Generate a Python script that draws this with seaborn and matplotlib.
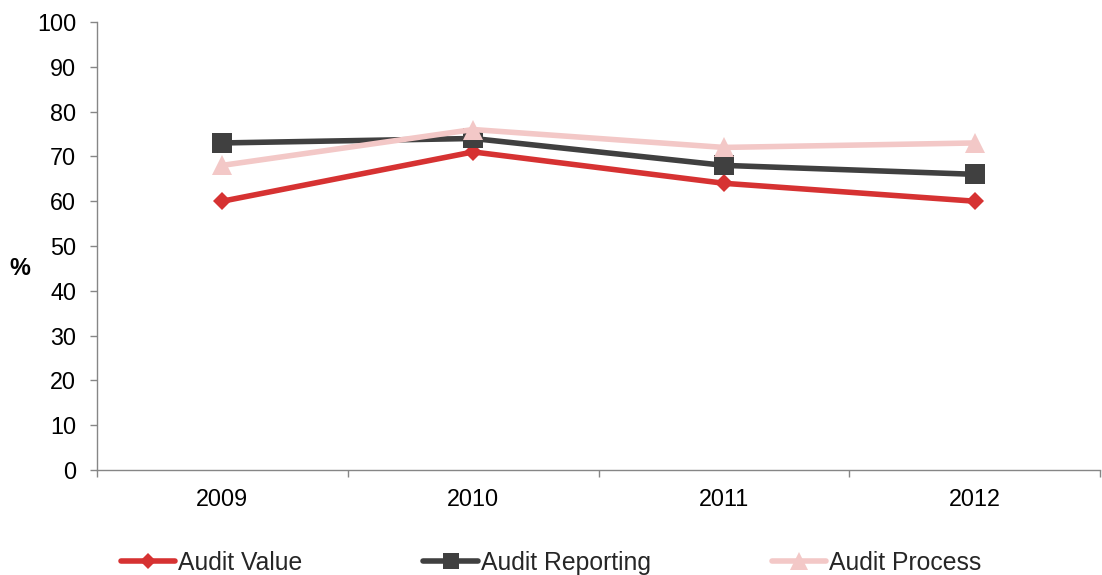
import matplotlib
matplotlib.use("Agg")
import matplotlib.pyplot as plt
from matplotlib.lines import Line2D
from matplotlib.ticker import FixedLocator, NullFormatter
import pandas as pd
import seaborn as sns

years = ["2009", "2010", "2011", "2012"]
audit_value = [60, 71, 64, 60]
audit_reporting = [73, 74, 68, 66]
audit_process = [68, 76, 72, 73]
series_names = ["Audit Value", "Audit Reporting", "Audit Process"]
y_ticks = list(range(0, 101, 10))

colors = ["#D63232", "#404040", "#F3C8C7"]
markers = ["D", "s", "^"]
marker_sizes = [9.5, 14, 14.5]

sns.set_theme(style="white")
plt.rcParams["font.family"] = ["Liberation Sans", "DejaVu Sans"]

rows = []
for name, vals in zip(series_names, [audit_value, audit_reporting, audit_process]):
    for i, (yr, v) in enumerate(zip(years, vals)):
        rows.append({"pos": i, "year": yr, "value": v, "series": name})
df = pd.DataFrame(rows)

fig = plt.figure(figsize=(11.02, 5.75), dpi=100)
ax = fig.add_axes([97 / 1102, 1 - 470 / 575, (1100 - 97) / 1102, (470 - 22) / 575])

palette = dict(zip(series_names, colors))
for name, mk, ms in zip(series_names, markers, marker_sizes):
    sub = df[df["series"] == name]
    sns.lineplot(data=sub, x="pos", y="value", color=palette[name], ax=ax,
                 linewidth=4, marker=mk, markersize=ms, markeredgewidth=0,
                 legend=False, sort=False)

ax.set_xlim(-0.5, len(years) - 0.5)
ax.set_ylim(0, 100)
ax.set_yticks(y_ticks)
ax.set_xticks(range(len(years)))
ax.set_xticklabels(years)
ax.xaxis.set_minor_locator(FixedLocator([i - 0.5 for i in range(len(years) + 1)]))
ax.xaxis.set_minor_formatter(NullFormatter())

spine_color = "#868686"
for side in ["top", "right"]:
    ax.spines[side].set_visible(False)
for side in ["left", "bottom"]:
    ax.spines[side].set_color(spine_color)
    ax.spines[side].set_linewidth(1.0)

ax.tick_params(axis="y", which="major", direction="out", length=5, width=1,
               color=spine_color, labelsize=16.8, labelcolor="black", pad=10, left=True)
ax.tick_params(axis="x", which="major", length=0, labelsize=16.8,
               labelcolor="black", pad=13, bottom=True)
ax.tick_params(axis="x", which="minor", direction="out", length=5, width=1,
               color=spine_color, bottom=True)

ax.set_xlabel("")
ax.set_ylabel("%", rotation=0, fontsize=16.8, fontweight="bold", color="black",
              va="center", ha="center")
ax.yaxis.set_label_coords(-0.077, 0.45)

handles = [Line2D([0], [0], color=c, linewidth=4, marker=m, markersize=ms * 0.85,
                  markeredgewidth=0, solid_capstyle="round")
           for c, m, ms in zip(colors, markers, marker_sizes)]
fig.legend(handles, series_names, loc="center", bbox_to_anchor=(0.5, 1 - 563 / 575),
           ncol=3, frameon=False, fontsize=17.8, handlelength=2.2, handletextpad=0.12,
           columnspacing=4.9, borderaxespad=0, borderpad=0)

fig.savefig("out.png", dpi=100)
